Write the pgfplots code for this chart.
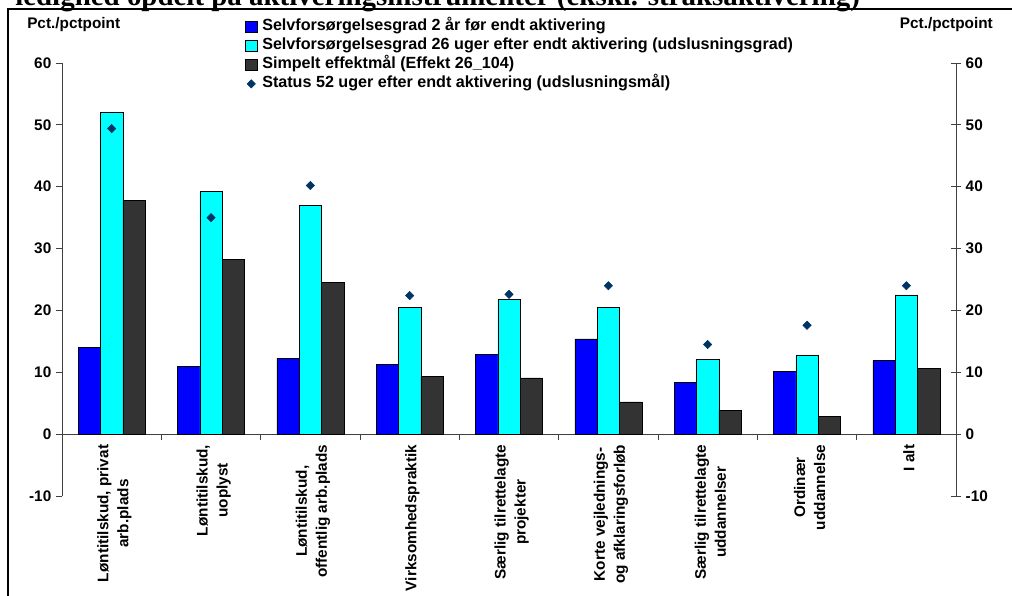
\documentclass[border=0pt]{standalone}
\usepackage{fontspec}
\setmainfont{Liberation Sans}
\newfontfamily\titlefont{Liberation Serif}
\usepackage{pgfplots}
\pgfplotsset{compat=1.18}
\definecolor{barblue}{RGB}{0,0,255}
\definecolor{barcyan}{RGB}{0,255,255}
\definecolor{bardark}{RGB}{51,51,51}
\definecolor{diamondblue}{RGB}{0,51,102}
\newcommand\lbl{\fontsize{11.5}{15}\selectfont\bfseries}
\newcommand\leg{\fontsize{12.1}{14}\selectfont\bfseries}
\pgfplotsset{
  barlegend/.style={legend image code/.code={\draw[##1] (0pt,-4.25pt) rectangle (8.5pt,4.25pt);}},
  marklegend/.style={legend image code/.code={\draw[mark repeat=2, mark phase=2, ##1] plot coordinates {(0pt,0pt) (4.25pt,0pt) (8.5pt,0pt)};}},
}

\begin{document}
\begin{tikzpicture}
\begin{scope}[x=0.75pt,y=-0.75pt]
  \useasboundingbox (0,0) rectangle (1012,594);
  \node[anchor=base west, inner sep=0pt, font=\titlefont\fontsize{21.7}{24}\selectfont\bfseries]
    at (15,6) {ledighed opdelt på aktiveringsinstrumenter (ekskl. straksaktivering)};
  \draw[line width=1.5pt] (8,9) rectangle (1040,640);
  \node[anchor=base west, inner sep=0pt, font=\lbl] at (27,29) {Pct./pctpoint};
  \node[anchor=base east, inner sep=0pt, font=\lbl] at (993,29) {Pct./pctpoint};
\end{scope}

\begin{axis}[
    at={(46.5pt,-372pt)}, anchor=south west,
    scale only axis, width=670.5pt, height=324.75pt,
    xmin=0.5, xmax=9.5, ymin=-10, ymax=60,
    axis y line*=left, axis x line*=middle,
    hide obscured x ticks=false, hide obscured y ticks=false,
    axis line style={black!75, line width=0.6pt},
    tick style={black!75, line width=0.6pt},
    tick align=outside, major tick length=4.5pt, minor tick length=4.5pt,
    ytick={-10,0,...,60},
    xtick={1,...,9},
    xticklabels={{Løntitilskud, privat\\arb.plads},
      {Løntitilskud,\\uoplyst},
      {Løntitilskud,\\offentlig arb.plads},
      {Virksomhedspraktik},
      {Særlig tilrettelagte\\projekter},
      {Korte vejlednings-\\og afklaringsforløb},
      {Særlig tilrettelagte\\uddannelser},
      {Ordinær\\uddannelse},
      {I alt}},
    minor xtick={0.5,1.5,...,9.5},
    major x tick style={draw=none},
    xticklabel style={rotate=90, anchor=east, align=center, font=\lbl, yshift=-2pt},
    /pgf/number format/assume math mode=true,
    yticklabel style={font=\lbl},
    legend cell align=left,
    legend style={at={(axis description cs:0.2047,1.101)}, anchor=north west,
      draw=none, fill=none, inner sep=0pt, row sep=3.25pt,
      nodes={inner sep=0pt, text height=8.5pt, text depth=2.5pt, font=\leg},
      /tikz/every odd column/.style={column sep=3.75pt}},
  ]
  \addplot[ybar, bar width=16.75pt, bar shift=-16.75pt, fill=barblue, draw=black, line width=0.5pt, barlegend]
    coordinates {(1,14.0) (2,11.0) (3,12.3) (4,11.3) (5,12.9) (6,15.4) (7,8.4) (8,10.1) (9,11.9)};
  \addlegendentry{Selvforsørgelsesgrad 2 år før endt aktivering}
  \addplot[ybar, bar width=16.75pt, bar shift=0pt, fill=barcyan, draw=black, line width=0.5pt, barlegend]
    coordinates {(1,52.0) (2,39.3) (3,37.0) (4,20.5) (5,21.8) (6,20.5) (7,12.1) (8,12.8) (9,22.5)};
  \addlegendentry{Selvforsørgelsesgrad 26 uger efter endt aktivering (udslusningsgrad)}
  \addplot[ybar, bar width=16.75pt, bar shift=16.75pt, fill=bardark, draw=black, line width=0.5pt, barlegend]
    coordinates {(1,37.8) (2,28.2) (3,24.5) (4,9.3) (5,9.1) (6,5.2) (7,3.9) (8,2.9) (9,10.6)};
  \addlegendentry{Simpelt effektmål (Effekt 26\_104)}
  \addplot[only marks, mark=square*, mark size=2.2pt, mark options={rotate=45, fill=diamondblue, draw=diamondblue}, marklegend]
    coordinates {(1,49.4) (2,35.0) (3,40.2) (4,22.4) (5,22.6) (6,24.0) (7,14.5) (8,17.6) (9,24.0)};
  \addlegendentry{Status 52 uger efter endt aktivering (udslusningsmål)}
\end{axis}

\begin{axis}[
    at={(46.5pt,-372pt)}, anchor=south west,
    scale only axis, width=670.5pt, height=324.75pt,
    xmin=0.5, xmax=9.5, ymin=-10, ymax=60,
    axis y line*=right, axis x line=none,
    axis line style={black!75, line width=0.6pt},
    tick style={black!75, line width=0.6pt},
    tick align=center, major tick length=7.5pt,
    ytick={-10,0,...,60},
    /pgf/number format/assume math mode=true,
    yticklabel style={font=\lbl},
  ]
\end{axis}
\end{tikzpicture}
\end{document}
